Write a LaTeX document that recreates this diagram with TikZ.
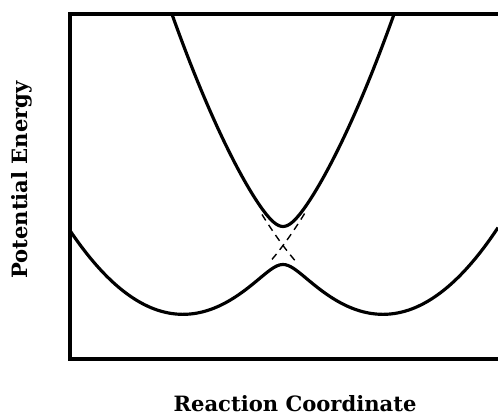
\documentclass[tikz,border=0pt]{standalone}
\usepackage{fontspec}
\setmainfont{DejaVu Serif}
\usetikzlibrary{positioning}

\begin{document}
\begin{tikzpicture}[
    declare function={
        vleft(\x)=2.1+0.331*(\x-3.64)^2;
        vright(\x)=2.1+0.331*(\x-7.68)^2;
        vmean(\x)=(vleft(\x)+vright(\x))/2;
        vgap(\x)=sqrt(((vleft(\x)-vright(\x))/2)^2+0.38^2);
    },
    frame/.style={line width=2pt},
    curve/.style={line width=1.8pt, line join=round},
    diabatic/.style={line width=0.8pt, dash pattern=on 4pt off 3pt},
    axislabel/.style={font=\fontsize{12}{14}\selectfont\bfseries}
]
\useasboundingbox (0,0) rectangle (9.96,8.36);

% ===== FRAME =====
\coordinate (tl) at (1.4,8.08);
\coordinate (tr) at (9.96,8.08);
\coordinate (bl) at (1.4,1.18);
\coordinate (br) at (9.96,1.18);
\draw[frame] (tr) -- (tl) -- (bl) -- (br);

% ===== CURVES =====
\begin{scope}
    \clip (bl) rectangle (tr);
    % lower surface
    \draw[curve] plot[domain=1.4:9.96, samples=150] (\x,{vmean(\x)-vgap(\x)});
    % upper surface
    \draw[curve] plot[domain=3:8.5, samples=150] (\x,{vmean(\x)+vgap(\x)});
    % crossing of the two parabolas
    \draw[diabatic] plot[domain=5.44:6.1, samples=20] (\x,{vleft(\x)});
    \draw[diabatic] plot[domain=5.24:5.9, samples=20] (\x,{vright(\x)});
\end{scope}

% ===== LABELS =====
\node[axislabel, rotate=90] (ylab) at (0.44,4.76) {Potential Energy};
\node[axislabel] (xlab) at (5.9,0.28) {Reaction Coordinate};

\end{tikzpicture}
\end{document}
